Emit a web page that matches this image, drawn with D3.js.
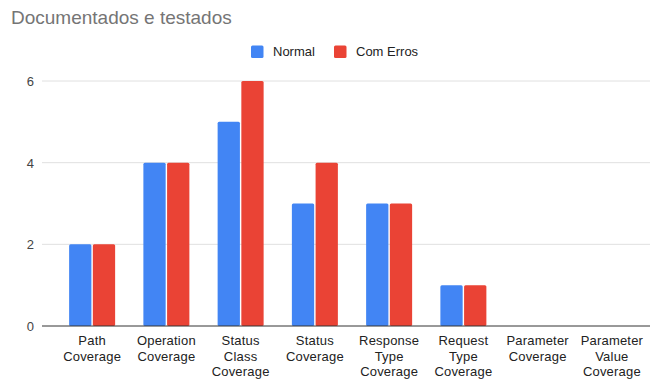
<!DOCTYPE html>
<html>
<head>
<meta charset="utf-8">
<script src="https://cdn.jsdelivr.net/npm/d3@7"></script>
<style>
  html, body { margin: 0; padding: 0; background: #fff; }
  svg { display: block; font-family: "Liberation Sans", Arial, sans-serif; }
</style>
</head>
<body>
<svg id="chart" width="652" height="381"></svg>
<script>
// Coverage categories (each label split into lines)
const categories = [
  ["Path", "Coverage"],
  ["Operation", "Coverage"],
  ["Status", "Class", "Coverage"],
  ["Status", "Coverage"],
  ["Response", "Type", "Coverage"],
  ["Request", "Type", "Coverage"],
  ["Parameter", "Coverage"],
  ["Parameter", "Value", "Coverage"]
];
const seriesNames = ["Normal", "Com Erros"];
const normalValues = [2, 4, 5, 3, 3, 1, 0, 0];
const comErrosValues = [2, 4, 6, 4, 3, 1, 0, 0];
const yTicks = [0, 2, 4, 6];
const colors = ["#4285f4", "#ea4335"];

const svg = d3.select("#chart");
const plot = { left: 42, right: 650, top: 81, bottom: 326 };

const keys = categories.map((c, i) => i);
const x = d3.scaleBand().domain(keys).range([55, 649]).paddingInner(0).paddingOuter(0);
const y = d3.scaleLinear().domain([0, 6]).range([plot.bottom, plot.top]);
const inner = d3.scaleBand().domain([0, 1]).range([0, 46]).paddingInner(0.06);

// Title
svg.append("text")
  .attr("x", 11).attr("y", 24)
  .attr("font-size", 19).attr("fill", "#757575")
  .text("Documentados e testados");

// Legend
const legend = svg.append("g");
const legendX = [251, 334];
seriesNames.forEach((name, i) => {
  legend.append("rect")
    .attr("x", legendX[i]).attr("y", 45.5).attr("width", 12.5).attr("height", 12.5)
    .attr("rx", 1.5).attr("fill", colors[i]);
  legend.append("text")
    .attr("x", legendX[i] + 22).attr("y", 56)
    .attr("font-size", 13).attr("fill", "#222")
    .text(name);
});

// Grid lines
svg.append("g").selectAll("line")
  .data(yTicks.filter(t => t !== 0))
  .join("line")
  .attr("x1", plot.left).attr("x2", plot.right)
  .attr("y1", d => y(d)).attr("y2", d => y(d))
  .attr("stroke", "#e0e0e0").attr("stroke-width", 1);

// Y-axis labels
const yAxis = d3.axisLeft(y).tickValues(yTicks).tickSize(0).tickPadding(0).tickFormat(d3.format("d"));
const yg = svg.append("g").attr("transform", "translate(34,0)").call(yAxis);
yg.select(".domain").remove();
yg.selectAll("text").attr("font-size", 13).attr("fill", "#444")
  .attr("font-family", "'Liberation Sans', Arial, sans-serif")
  .attr("dy", "0.35em");

// Bars
const seriesData = [normalValues, comErrosValues];
seriesData.forEach((vals, s) => {
  svg.append("g").selectAll("rect")
    .data(vals.map((v, i) => ({ i, v })).filter(d => d.v > 0))
    .join("rect")
    .attr("x", d => x(d.i) + (x.bandwidth() - 46) / 2 + inner(s))
    .attr("y", d => y(d.v))
    .attr("width", inner.bandwidth())
    .attr("height", d => y(0) - y(d.v))
    .attr("rx", 1.5)
    .attr("fill", colors[s]);
});

// Baseline
svg.append("line")
  .attr("x1", plot.left).attr("x2", plot.right)
  .attr("y1", y(0)).attr("y2", y(0))
  .attr("stroke", "#333").attr("stroke-width", 1);

// X-axis labels
const xg = svg.append("g");
categories.forEach((lines, i) => {
  const cx = x(i) + x.bandwidth() / 2;
  const t = xg.append("text")
    .attr("x", cx)
    .attr("y", 345)
    .attr("text-anchor", "middle")
    .attr("font-size", 13).attr("letter-spacing", 0.2).attr("fill", "#222");
  lines.forEach((ln, j) => {
    t.append("tspan").attr("x", cx).attr("dy", j === 0 ? 0 : 15.5).text(ln);
  });
});
</script>
</body>
</html>
